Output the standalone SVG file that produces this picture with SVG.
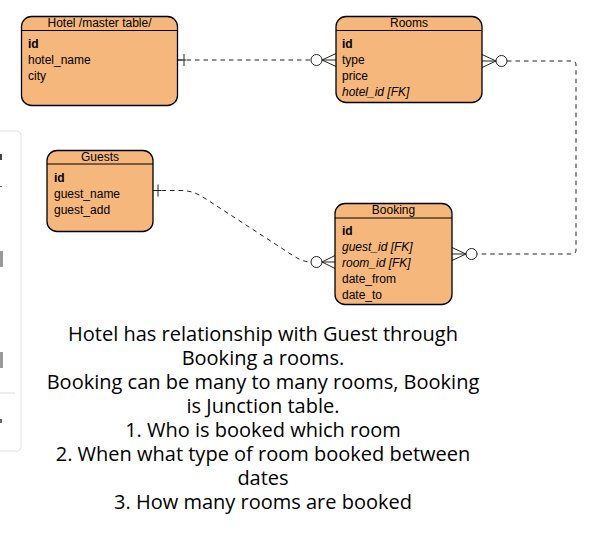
<svg xmlns="http://www.w3.org/2000/svg" width="595" height="534" viewBox="0 0 595 534">
<style>
.box{fill:#F5B77B;stroke:#000;stroke-width:1.3}
.hdr{stroke:#000;stroke-width:1.2}
.t{font-family:"Liberation Sans",Arial,sans-serif;font-size:12px;fill:#000}
.title{text-anchor:middle}
.b{font-weight:bold}
.i{font-style:italic}
.edge{fill:none;stroke:#222;stroke-width:1;stroke-dasharray:4.5 4}
.mark{fill:none;stroke:#222;stroke-width:1}
.circ{fill:#fff;stroke:#222;stroke-width:1}
.note{font-family:"Open Sans","Noto Sans",sans-serif;font-size:20px;fill:#000;text-anchor:middle}
</style>
<rect width="595" height="534" fill="#fff"/>
<g id="sidebar">
<rect x="-10" y="131" width="31" height="320" rx="4" fill="#fff" stroke="#e2e2e2"/>
<line x1="0" y1="393" x2="15" y2="393" stroke="#ddd"/>
<rect x="0" y="154" width="2" height="6" fill="#444"/>
<rect x="0" y="186" width="2" height="1" fill="#666"/>
<rect x="0" y="251" width="3" height="16" fill="#999"/>
<rect x="0" y="352" width="3" height="16" fill="#999"/>
<rect x="0" y="419" width="2" height="4" fill="#666"/>
</g>
<g id="connectors">
<line x1="178" y1="60" x2="311" y2="60" class="edge"/>
<line x1="178" y1="60" x2="186" y2="60" class="mark"/>
<line x1="184" y1="54" x2="184" y2="66" class="mark"/>
<path d="M322 60 L336 53.5 M322 60 L336 60 M322 60 L336 66.5" class="mark"/>
<circle cx="316.5" cy="60" r="5.5" class="circ"/>
<path d="M507 61 H572 Q576 61 576 65 V250 Q576 254 572 254 H477" class="edge"/>
<path d="M482 54.5 L496 61 M482 61 L496 61 M482 67.5 L496 61" class="mark"/>
<circle cx="501.5" cy="61" r="5.5" class="circ"/>
<path d="M452 247.5 L466 254 M452 254 L466 254 M452 260.5 L466 254" class="mark"/>
<circle cx="471.5" cy="254" r="5.5" class="circ"/>
<path d="M153 190.5 H180 C192 190.5 198 194 206 199 L286 251 C295 257 302 262 311 262" class="edge"/>
<line x1="153" y1="190.5" x2="161" y2="190.5" class="mark"/>
<line x1="158" y1="184.5" x2="158" y2="196.5" class="mark"/>
<path d="M322 262 L335 255.5 M322 262 L335 262 M322 262 L335 268.5" class="mark"/>
<circle cx="316.5" cy="262" r="5.5" class="circ"/>
</g>
<g id="hotel">
<rect x="21.5" y="16.5" width="156" height="89" rx="10" class="box"/>
<line x1="21.5" y1="30.5" x2="177.5" y2="30.5" class="hdr"/>
<text x="99.5" y="27" class="t title">Hotel /master table/</text>
<text x="28" y="48" class="t b">id</text>
<text x="28" y="64" class="t">hotel_name</text>
<text x="28" y="80" class="t">city</text>
</g>
<g id="rooms">
<rect x="336" y="16.5" width="146" height="86" rx="10" class="box"/>
<line x1="336" y1="30.5" x2="482" y2="30.5" class="hdr"/>
<text x="409" y="27" class="t title">Rooms</text>
<text x="342" y="48" class="t b">id</text>
<text x="342" y="64" class="t">type</text>
<text x="342" y="80" class="t">price</text>
<text x="342" y="96" class="t i">hotel_id [FK]</text>
</g>
<g id="guests">
<rect x="47" y="150.5" width="106" height="81" rx="10" class="box"/>
<line x1="47" y1="164" x2="153" y2="164" class="hdr"/>
<text x="100" y="161" class="t title">Guests</text>
<text x="54" y="182" class="t b">id</text>
<text x="54" y="198" class="t">guest_name</text>
<text x="54" y="214" class="t">guest_add</text>
</g>
<g id="booking">
<rect x="335" y="203.5" width="117" height="101" rx="10" class="box"/>
<line x1="335" y1="218" x2="452" y2="218" class="hdr"/>
<text x="393.5" y="214" class="t title">Booking</text>
<text x="342" y="235" class="t b">id</text>
<text x="342" y="251" class="t i">guest_id [FK]</text>
<text x="342" y="267" class="t i">room_id [FK]</text>
<text x="342" y="283" class="t">date_from</text>
<text x="342" y="299" class="t">date_to</text>
</g>
<g id="note">
<text x="263" y="341" class="note">Hotel has relationship with Guest through</text>
<text x="263" y="365" class="note">Booking a rooms.</text>
<text x="263" y="389" class="note">Booking can be many to many rooms, Booking</text>
<text x="263" y="413" class="note">is Junction table.</text>
<text x="263" y="437" class="note">1. Who is booked which room</text>
<text x="263" y="461" class="note">2. When what type of room booked between</text>
<text x="263" y="485" class="note">dates</text>
<text x="263" y="509" class="note">3. How many rooms are booked</text>
</g>
</svg>
